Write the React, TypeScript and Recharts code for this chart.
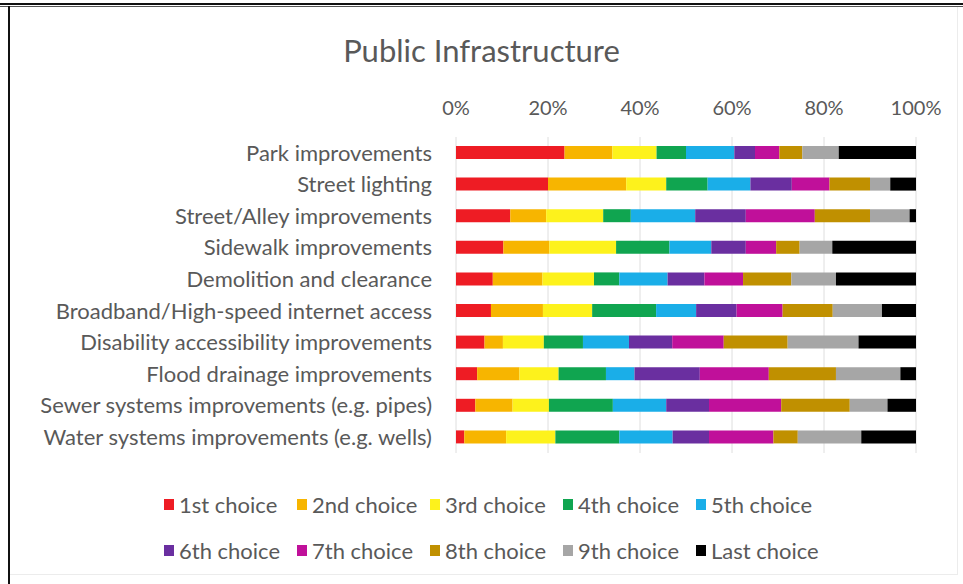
import React from "react";
import { BarChart, Bar, XAxis, YAxis, CartesianGrid } from "recharts";

const categories = [
  "Park improvements",
  "Street lighting",
  "Street/Alley improvements",
  "Sidewalk improvements",
  "Demolition and clearance",
  "Broadband/High-speed internet access",
  "Disability accessibility improvements",
  "Flood drainage improvements",
  "Sewer systems improvements (e.g. pipes)",
  "Water systems improvements (e.g. wells)",
];

const seriesNames = [
  "1st choice",
  "2nd choice",
  "3rd choice",
  "4th choice",
  "5th choice",
  "6th choice",
  "7th choice",
  "8th choice",
  "9th choice",
  "Last choice",
];

const first = [23.6, 20, 11.8, 10.3, 8, 7.6, 6.2, 4.6, 4.2, 1.8];
const second = [10.4, 17, 7.8, 10, 10.8, 11.3, 4, 9.2, 8.1, 9.1];
const third = [9.6, 8.7, 12.4, 14.5, 11.2, 10.7, 8.9, 8.5, 7.9, 10.7];
const fourth = [6.4, 9, 6, 11.6, 5.5, 13.9, 8.5, 10.3, 13.9, 13.9];
const fifth = [10.5, 9.3, 14, 9.1, 10.5, 8.7, 10, 6.2, 11.6, 11.6];
const sixth = [4.5, 9, 11, 7.5, 8, 8.8, 9.4, 14.2, 9.3, 7.9];
const seventh = [5.3, 8.2, 15, 6.6, 8.4, 10, 11.2, 15, 15.7, 14];
const eighth = [5, 8.8, 12, 5.1, 10.5, 10.9, 13.9, 14.6, 14.9, 5.3];
const ninth = [7.9, 4.4, 8.6, 7.1, 9.7, 10.7, 15.4, 14, 8.2, 13.8];
const last = [16.8, 5.6, 1.4, 18.2, 17.4, 7.4, 12.5, 3.4, 6.2, 11.9];

const seriesValues = [first, second, third, fourth, fifth, sixth, seventh, eighth, ninth, last];

const colors = [
  "#ee1c24",
  "#f7b500",
  "#fdf21c",
  "#10a550",
  "#1aaee8",
  "#6a2fa0",
  "#c0109a",
  "#c09000",
  "#a6a6a6",
  "#000000",
];

const xTicks = [0, 0.2, 0.4, 0.6, 0.8, 1];

const data = categories.map((c, i) => {
  const row: Record<string, number | string> = { name: c };
  seriesNames.forEach((s, j) => {
    row[s] = seriesValues[j][i];
  });
  return row;
});

const FONT = "Lato, 'Open Sans', sans-serif";
const TEXT = "#595959";

export default function App() {
  return (
    <div
      style={{
        position: "absolute",
        left: 0,
        top: 0,
        width: 963,
        height: 584,
        background: "#fff",
        overflow: "hidden",
        fontFamily: FONT,
      }}
    >
      {/* frame */}
      <div style={{ position: "absolute", left: 0, top: 3, width: 963, height: 2, background: "#111" }} />
      <div style={{ position: "absolute", left: 0, top: 6, width: 963, height: 1, background: "#555" }} />
      <div style={{ position: "absolute", left: 8, top: 6, width: 2, height: 578, background: "#111" }} />
      <div style={{ position: "absolute", left: 957, top: 7, width: 1, height: 568, background: "#ececec" }} />
      <div style={{ position: "absolute", left: 10, top: 574, width: 948, height: 1, background: "#ececec" }} />

      <div
        style={{
          position: "absolute",
          left: 0,
          top: 31,
          width: 963,
          textAlign: "center",
          fontSize: 31,
          color: TEXT,
          lineHeight: "38px",
        }}
      >
        Public Infrastructure
      </div>

      <div style={{ position: "absolute", left: 0, top: 0 }}>
        <BarChart
          width={963}
          height={584}
          data={data}
          layout="vertical"
          stackOffset="expand"
          barSize={13}
          margin={{ top: 80, right: 47, bottom: 131, left: 0 }}
        >
          <CartesianGrid horizontal={false} vertical={true} stroke="#dedede" strokeWidth={1} />
          <XAxis
            type="number"
            orientation="top"
            domain={[0, 1]}
            ticks={xTicks}
            tickFormatter={(v: number) => `${Math.round(v * 100)}%`}
            axisLine={false}
            tickLine={false}
            tickSize={0}
            tickMargin={22}
            height={57}
            tick={{ fill: TEXT, fontSize: 20, fontFamily: FONT }}
          />
          <YAxis
            type="category"
            dataKey="name"
            width={456}
            axisLine={false}
            tickLine={false}
            tickSize={0}
            tickMargin={24}
            interval={0}
            tick={{ fill: TEXT, fontSize: 22, fontFamily: FONT }}
          />
          {seriesNames.map((s, j) => (
            <Bar key={s} dataKey={s} stackId="a" fill={colors[j]} isAnimationActive={false} />
          ))}
        </BarChart>
      </div>

      {/* legend */}
      <div
        style={{
          position: "absolute",
          left: 164,
          top: 490,
          width: 680,
          display: "flex",
          flexWrap: "wrap",
          rowGap: 18,
        }}
      >
        {seriesNames.map((s, j) => (
          <div
            key={s}
            style={{
              width: 133,
              height: 28,
              display: "flex",
              alignItems: "center",
              fontSize: 22,
              color: TEXT,
              whiteSpace: "nowrap",
            }}
          >
            <span
              style={{
                display: "inline-block",
                width: 10,
                height: 11,
                background: colors[j],
                marginRight: 5,
              }}
            />
            {s}
          </div>
        ))}
      </div>
    </div>
  );
}
